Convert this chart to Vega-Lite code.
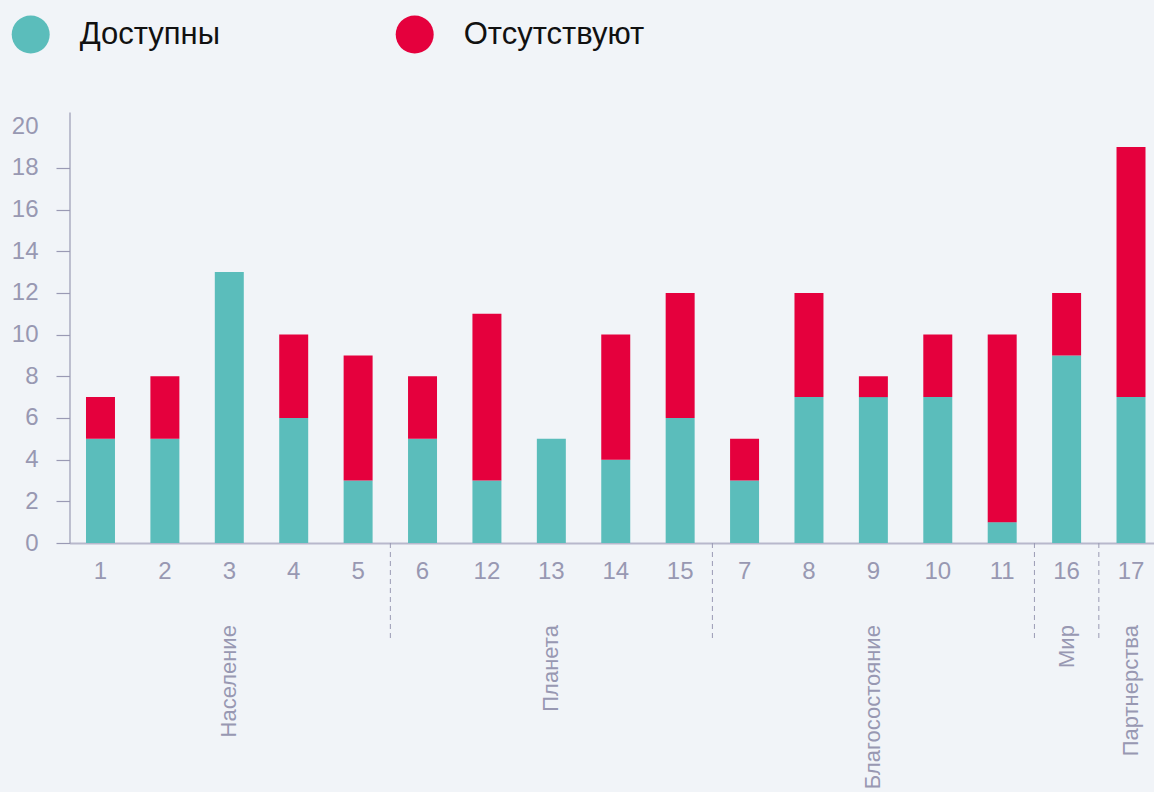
{
  "$schema": "https://vega.github.io/schema/vega-lite/v6.json",
  "width": 1084.5,
  "height": 431,
  "autosize": {"type": "none"},
  "padding": {"left": 69.5, "top": 112, "right": 0, "bottom": 249},
  "background": "#f1f4f8",
  "config": {
    "view": {"stroke": null},
    "font": "Liberation Sans",
    "axisY": {
      "domainColor": "#9a9ab4", "tickColor": "#9a9ab4", "tickSize": 13.5, "labelPadding": 18,
      "labelFontSize": 24, "labelColor": "#9898b2", "grid": false, "title": null, "domainWidth": 1.2, "tickWidth": 1.2,
      "values": [0, 2, 4, 6, 8, 10, 12, 14, 16, 18, 20],
      "tickOpacity": {"condition": {"test": "datum.value == 20", "value": 0}, "value": 1}
    },
    "axisX": {
      "domainColor": "#b8b8cc", "domainWidth": 2, "ticks": false, "tickSize": 0, "labelPadding": 16, "labelAngle": 0,
      "labelFontSize": 24, "labelColor": "#9898b2", "title": null, "grid": false
    },
    "legend": {
      "orient": "none", "legendX": -57.8, "legendY": -96.5, "direction": "horizontal", "title": null,
      "symbolType": "circle", "symbolSize": 1444, "symbolStrokeWidth": 0, "symbolOpacity": 1,
      "labelFontSize": 31, "labelColor": "#111111", "labelOffset": 30, "labelLimit": 0,
      "columnPadding": 175, "padding": 0
    }
  },
  "datasets": {
    "bars": [
      {"cat": "1", "status": "Доступны", "ord": 1, "n": 5},
      {"cat": "1", "status": "Отсутствуют", "ord": 2, "n": 2},
      {"cat": "2", "status": "Доступны", "ord": 1, "n": 5},
      {"cat": "2", "status": "Отсутствуют", "ord": 2, "n": 3},
      {"cat": "3", "status": "Доступны", "ord": 1, "n": 13},
      {"cat": "3", "status": "Отсутствуют", "ord": 2, "n": 0},
      {"cat": "4", "status": "Доступны", "ord": 1, "n": 6},
      {"cat": "4", "status": "Отсутствуют", "ord": 2, "n": 4},
      {"cat": "5", "status": "Доступны", "ord": 1, "n": 3},
      {"cat": "5", "status": "Отсутствуют", "ord": 2, "n": 6},
      {"cat": "6", "status": "Доступны", "ord": 1, "n": 5},
      {"cat": "6", "status": "Отсутствуют", "ord": 2, "n": 3},
      {"cat": "12", "status": "Доступны", "ord": 1, "n": 3},
      {"cat": "12", "status": "Отсутствуют", "ord": 2, "n": 8},
      {"cat": "13", "status": "Доступны", "ord": 1, "n": 5},
      {"cat": "13", "status": "Отсутствуют", "ord": 2, "n": 0},
      {"cat": "14", "status": "Доступны", "ord": 1, "n": 4},
      {"cat": "14", "status": "Отсутствуют", "ord": 2, "n": 6},
      {"cat": "15", "status": "Доступны", "ord": 1, "n": 6},
      {"cat": "15", "status": "Отсутствуют", "ord": 2, "n": 6},
      {"cat": "7", "status": "Доступны", "ord": 1, "n": 3},
      {"cat": "7", "status": "Отсутствуют", "ord": 2, "n": 2},
      {"cat": "8", "status": "Доступны", "ord": 1, "n": 7},
      {"cat": "8", "status": "Отсутствуют", "ord": 2, "n": 5},
      {"cat": "9", "status": "Доступны", "ord": 1, "n": 7},
      {"cat": "9", "status": "Отсутствуют", "ord": 2, "n": 1},
      {"cat": "10", "status": "Доступны", "ord": 1, "n": 7},
      {"cat": "10", "status": "Отсутствуют", "ord": 2, "n": 3},
      {"cat": "11", "status": "Доступны", "ord": 1, "n": 1},
      {"cat": "11", "status": "Отсутствуют", "ord": 2, "n": 9},
      {"cat": "16", "status": "Доступны", "ord": 1, "n": 9},
      {"cat": "16", "status": "Отсутствуют", "ord": 2, "n": 3},
      {"cat": "17", "status": "Доступны", "ord": 1, "n": 7},
      {"cat": "17", "status": "Отсутствуют", "ord": 2, "n": 12}
    ],
    "groups": [
      {"cat": "3", "group": "Население", "ytop": -3.94},
      {"cat": "13", "group": "Планета", "ytop": -3.94},
      {"cat": "9", "group": "Благосостояние", "ytop": -3.94},
      {"cat": "16", "group": "Мир", "ytop": -3.94},
      {"cat": "17", "group": "Партнерства", "ytop": -3.94}
    ],
    "seps": [
      {"cat": "6", "y0": 0, "y1": -4.56},
      {"cat": "7", "y0": 0, "y1": -4.56},
      {"cat": "16", "y0": 0, "y1": -4.56},
      {"cat": "17", "y0": 0, "y1": -4.56}
    ]
  },
  "encoding": {
    "x": {
      "field": "cat", "type": "nominal",
      "sort": ["1", "2", "3", "4", "5", "6", "12", "13", "14", "15", "7", "8", "9", "10", "11", "16", "17"],
      "scale": {"paddingInner": 0.55, "paddingOuter": 0.194, "align": 0.66},
      "axis": {}
    }
  },
  "layer": [
    {
      "data": {"name": "bars"},
      "mark": {"type": "bar"},
      "encoding": {
        "y": {"field": "n", "type": "quantitative", "stack": "zero", "scale": {"domain": [0, 20.68], "nice": false}},
        "color": {
          "field": "status", "type": "nominal",
          "scale": {"domain": ["Доступны", "Отсутствуют"], "range": ["#5bbdbb", "#e5003d"]}
        },
        "order": {"field": "ord", "type": "quantitative"}
      }
    },
    {
      "data": {"name": "seps"},
      "mark": {"type": "rule", "color": "#9a9ab4", "strokeWidth": 1, "strokeDash": [5, 4]},
      "encoding": {
        "x": {"field": "cat", "type": "nominal", "bandPosition": -0.61},
        "y": {"field": "y0", "type": "quantitative"},
        "y2": {"field": "y1"}
      }
    },
    {
      "data": {"name": "groups"},
      "mark": {"type": "text", "angle": 270, "align": "right", "baseline": "middle", "fontSize": 22, "color": "#9898b2"},
      "encoding": {
        "y": {"field": "ytop", "type": "quantitative"},
        "text": {"field": "group", "type": "nominal"}
      }
    }
  ]
}
